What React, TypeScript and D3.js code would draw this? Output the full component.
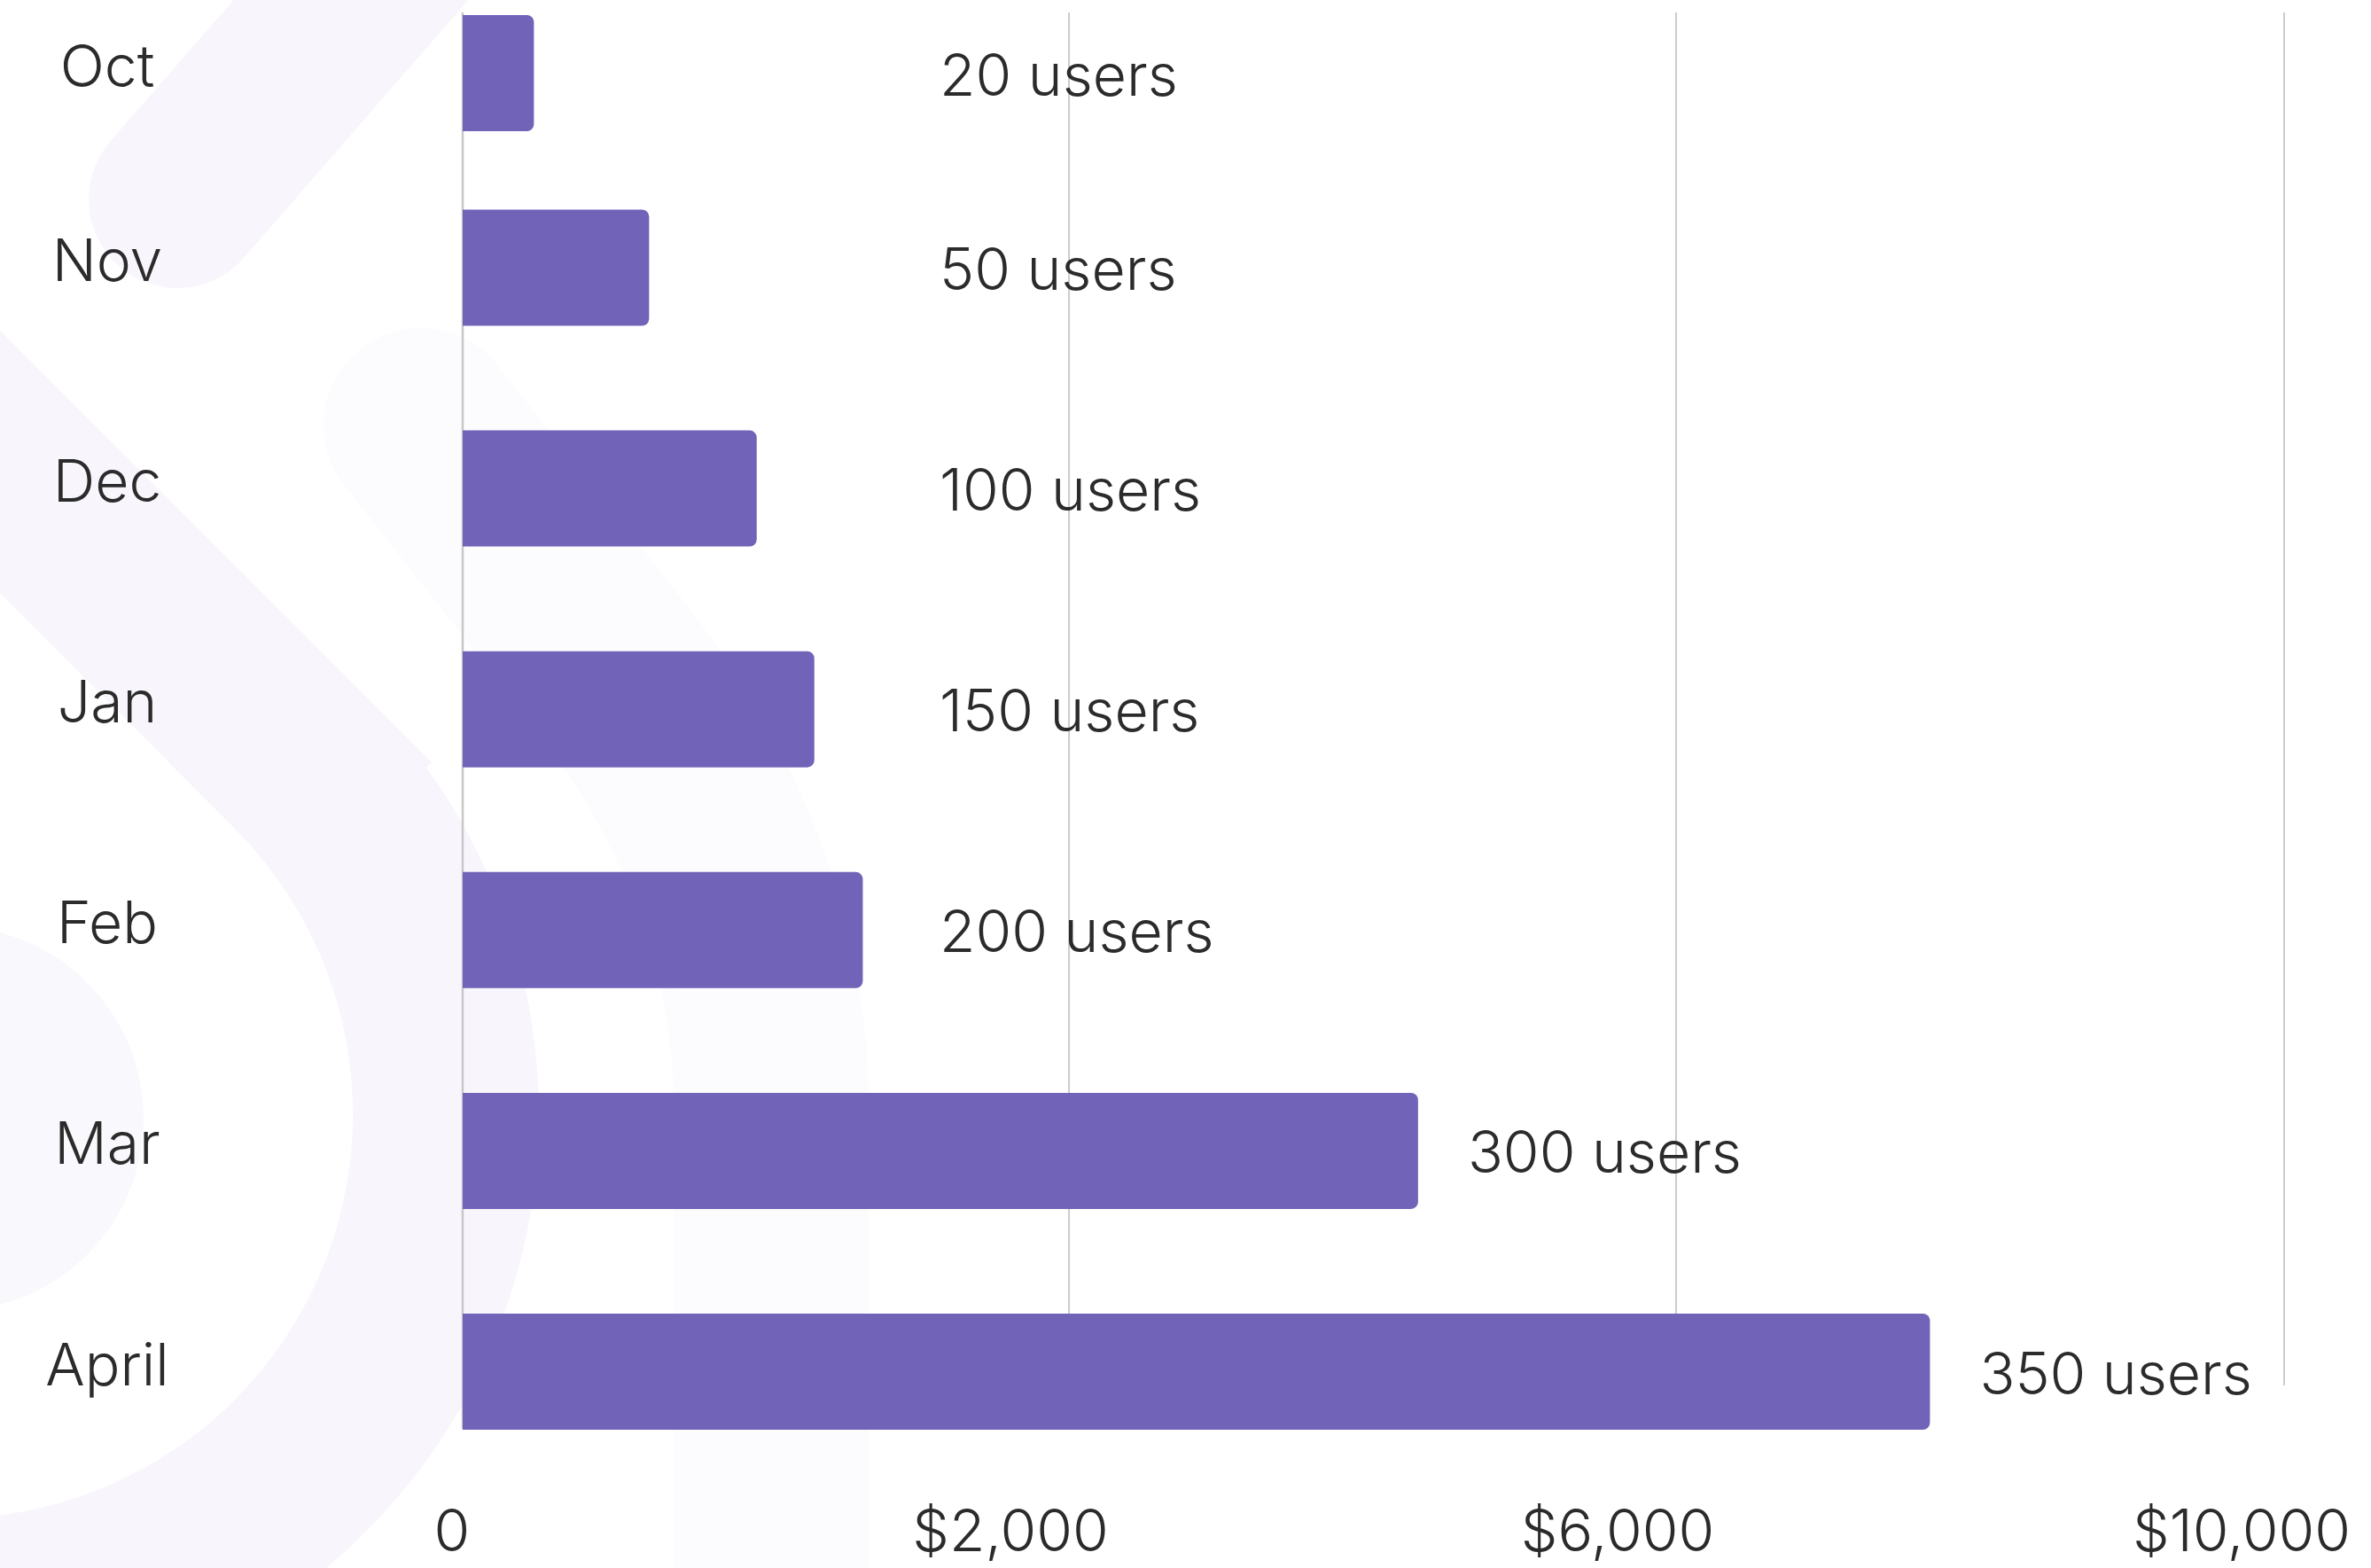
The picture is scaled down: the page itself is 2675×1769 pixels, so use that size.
import React from "react";
import * as d3 from "d3";

const months = ["Oct", "Nov", "Dec", "Jan", "Feb", "Mar", "April"];
const revenue = [235, 615, 970, 1160, 1320, 4300, 7670];
const users = [20, 50, 100, 150, 200, 300, 350];
const tickValues = [0, 2000, 6000, 10000];
const tickLabels = ["0", "$2,000", "$6,000", "$10,000"];

const W = 2675;
const H = 1769;
const FONT = "Inter, 'Open Sans', sans-serif";
const TEXT = "#2b2b2b";
const BAR = "#7163b8";
const GRID = "#cccccc";

export default function App() {
  const x = d3
    .scaleLinear()
    .domain(tickValues)
    .range([522, 1206, 1891, 2577]);
  // Oct row sits a little lower than the regular step of the other rows
  const yTop = d3.scaleLinear().domain([0, 1, 6]).range([17, 236.5, 1482]);
  const barH = 131;
  const r = 8;

  const barPath = (x0: number, y0: number, x1: number, h: number) => {
    const w = x1 - x0;
    const rr = Math.min(r, w / 2);
    return `M${x0},${y0}H${x1 - rr}A${rr},${rr} 0 0 1 ${x1},${y0 + rr}V${y0 + h - rr}A${rr},${rr} 0 0 1 ${x1 - rr},${y0 + h}H${x0}Z`;
  };

  const bgBand = d3.path();
  bgBand.moveTo(-100, 421);
  bgBand.lineTo(339, 860);
  bgBand.arc(-58, 1257, 561, -Math.PI / 4, (100 * Math.PI) / 180, false);

  const tickDx = (v: number, i: number) =>
    v === 0 ? -12 : i === tickValues.length - 1 ? -48 : -66;

  return (
    <svg
      width={W}
      height={H}
      viewBox={`0 0 ${W} ${H}`}
      style={{ position: "absolute", left: 0, top: 0, background: "#ffffff" }}
    >
      <rect x={0} y={0} width={W} height={H} fill="#ffffff" />
      {/* decorative background */}
      <g>
        <path
          d="M200,225L530,-154"
          stroke="#f8f6fc"
          strokeWidth={200}
          strokeLinecap="round"
          fill="none"
        />
        <path d={bgBand.toString()} stroke="#f8f6fc" strokeWidth={210} fill="none" />
        <circle cx={-55} cy={1262} r={217} fill="#f9f8fc" />
        <path
          d="M475,480L680,740Q870,980 870,1250L870,1800"
          stroke="#fcfbfe"
          strokeWidth={220}
          strokeLinecap="round"
          fill="none"
        />
      </g>

      {/* grid lines */}
      {tickValues.slice(1).map((v) => (
        <line
          key={v}
          x1={x(v)}
          x2={x(v)}
          y1={14}
          y2={1563}
          stroke={GRID}
          strokeWidth={2}
        />
      ))}
      {/* zero axis */}
      <line x1={x(0)} x2={x(0)} y1={14} y2={1612} stroke="#c8c8c8" strokeWidth={2.5} />

      {/* bars */}
      {months.map((m, i) => (
        <path key={m} d={barPath(x(0), yTop(i), x(revenue[i]), barH)} fill={BAR} />
      ))}

      {/* category labels */}
      {months.map((m, i) => (
        <text
          key={m}
          x={121}
          y={yTop(i) + barH / 2 + 15}
          textAnchor="middle"
          fontFamily={FONT}
          fontWeight={300}
          fontSize={66}
          fill={TEXT}
        >
          {m}
        </text>
      ))}

      {/* value labels */}
      {months.map((m, i) => (
        <text
          key={m}
          x={Math.max(x(revenue[i]) + 56, 1060)}
          y={yTop(i) + barH / 2 + 25}
          fontFamily={FONT}
          fontWeight={300}
          fontSize={66}
          fill={TEXT}
        >
          {`${users[i]} users`}
        </text>
      ))}

      {/* x tick labels */}
      {tickValues.map((v, i) => (
        <text
          key={v}
          x={x(v) + tickDx(v, i)}
          y={1750}
          textAnchor="middle"
          fontFamily={FONT}
          fontWeight={300}
          fontSize={66}
          fill={TEXT}
        >
          {tickLabels[i]}
        </text>
      ))}
    </svg>
  );
}
